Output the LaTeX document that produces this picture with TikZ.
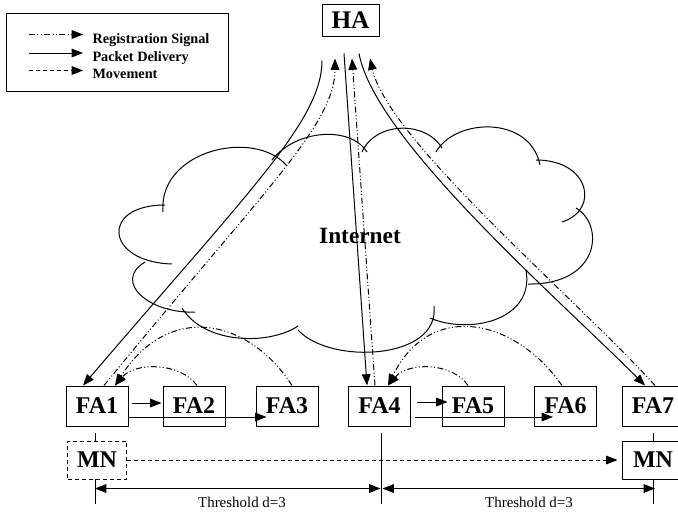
\documentclass[tikz,border=0pt]{standalone}
\usepackage{fontspec}
\setmainfont{Liberation Serif}
\usetikzlibrary{arrows.meta,calc}

\tikzset{every picture/.style={line width=0.75pt}}
\tikzset{
  agent/.style={draw, minimum width=46.5pt, minimum height=30pt, inner sep=0pt, font=\bfseries\fontsize{18}{20}\selectfont},
  regline/.style={dash pattern=on 4.5pt off 1.8pt on 0.75pt off 1.8pt on 0.75pt off 1.8pt},
  moveline/.style={dash pattern=on 3pt off 2.25pt},
  arr/.style={-{Triangle[length=8.5pt,width=6.5pt]}},
  dimarr/.style={{Triangle[length=8.5pt,width=6.5pt]}-{Triangle[length=8.5pt,width=6.5pt]}},
  legtext/.style={anchor=base west, inner sep=0pt, font=\bfseries\fontsize{10.7}{12}\selectfont},
  thtext/.style={inner sep=0pt, font=\fontsize{11.2}{13}\selectfont},
}

\begin{document}
\begin{tikzpicture}[x=0.75pt,y=0.75pt,yscale=-1,xscale=1]
\path[use as bounding box] (0,0) rectangle (678,512);
\clip (0,0) rectangle (678,512);

%Shape: Rectangle [legend]
\draw   (6,13) rectangle (228,91) ;
%Straight Lines [legend]
\draw [regline,arr]   (29,34.5) -- (83,34.5) ;
\draw [arr]   (29,53) -- (83,53) ;
\draw [moveline,arr]   (29,70.5) -- (83,70.5) ;
% Text Node
\draw (92,43.3) node [legtext] (lreg) {Registration Signal};
% Text Node
\draw (92,61.7) node [legtext] (lpkt) {Packet Delivery};
% Text Node
\draw (92,78.3) node [legtext] (lmov) {Movement};

%Shape: Cloud
\draw   (195,312) .. controls (150,314) and (112,282) .. (145,262)
        (172,264) .. controls (105,262) and (100,205) .. (165,205)
        (163,212) .. controls (158,150) and (255,128) .. (287,166)
        (272,160) .. controls (295,130) and (350,125) .. (367,152)
        (362,152) .. controls (375,122) and (425,120) .. (442,148)
        (436,152) .. controls (455,118) and (530,115) .. (540,165)
        (536,160) .. controls (590,160) and (600,210) .. (562,222)
        (576,208) .. controls (605,225) and (600,285) .. (528,284)
        (526,270) .. controls (535,320) and (470,335) .. (430,318)
        (434,306) .. controls (440,360) and (330,365) .. (298,330)
        (298,326) .. controls (270,345) and (205,345) .. (182,308) ;
% Text Node
\draw (360,236) node [font=\bfseries\fontsize{17.5}{20}\selectfont] (inet) {Internet};

% Text Node
\draw (350.5,20) node [agent, minimum width=42.75pt, minimum height=24pt, font=\bfseries\fontsize{19}{20}\selectfont] (ha) {HA};
% Text Node
\draw (97,406) node [agent] (fa1) {FA1};
% Text Node
\draw (194,406) node [agent] (fa2) {FA2};
% Text Node
\draw (287,406) node [agent] (fa3) {FA3};
% Text Node
\draw (379.5,406) node [agent] (fa4) {FA4};
% Text Node
\draw (473,406) node [agent] (fa5) {FA5};
% Text Node
\draw (565.5,406) node [agent] (fa6) {FA6};
% Text Node
\draw (653,406) node [agent] (fa7) {FA7};

%Straight Lines [threshold marks]
\draw    ($(fa1.south)+(-2,6)$) -- ($(fa1.south)+(-2,77)$) ;
\draw    ($(fa4.south)+(2,6)$) -- ($(fa4.south)+(2,77)$) ;
\draw    ($(fa7.south)+(0,6)$) -- ($(fa7.south)+(0,77)$) ;

% Text Node
\draw (97,460) node [agent, fill=white, moveline, minimum width=44.25pt, minimum height=28.5pt] (mn1) {MN};
% Text Node
\draw (653,460) node [agent, fill=white, minimum width=46.5pt, minimum height=28.5pt] (mn2) {MN};

% Connection
\draw [moveline,arr]   (mn1.east) -- ($(mn2.west)+(-4,0)$) ;
% Connection
\draw [dimarr]   ($(fa1.south)+(-2,62)$) -- ($(fa4.south)+(1,62)$) ;
\draw [dimarr]   ($(fa4.south)+(3,62)$) -- ($(fa7.south)+(2,62)$) ;
% Text Node
\draw (242,502) node [thtext] (th1) {Threshold d=3};
% Text Node
\draw (529,502) node [thtext] (th2) {Threshold d=3};

% Connection
\draw [arr]   ($(fa1.east)+(3,-3)$) -- ($(fa2.west)+(-1,-3)$) ;
\draw [arr]   ($(fa1.east)+(-1,11)$) -- ($(fa3.west)+(11,11)$) ;
\draw [arr]   ($(fa4.east)+(6,-4)$) -- ($(fa5.west)+(6,-4)$) ;
\draw [arr]   ($(fa4.east)+(4,11)$) -- ($(fa6.west)+(19,11)$) ;

%Curve Lines
\draw [regline,arr]   ($(fa2.north)+(3,0)$) .. controls (180,362) and (135,362) .. ($(fa1.north)+(18,0)$) ;
\draw [regline,arr]   ($(fa3.north)+(5,0)$) .. controls (250,320) and (170,300) .. ($(fa1.north)+(18,0)$) ;
\draw [regline,arr]   ($(fa5.north)+(-5,0)$) .. controls (452,362) and (408,362) .. ($(fa4.north)+(8.5,0)$) ;
\draw [regline,arr]   ($(fa6.north)+(-3.5,0)$) .. controls (515,318) and (430,300) .. ($(fa4.north)+(8.5,0)$) ;

%Curve Lines
\draw [arr]   ($(ha.south)+(-28.5,24)$) .. controls (322,120) and (250,190) .. ($(fa1.north)+(-14,0)$) ;
\draw [regline,arr]   ($(fa1.north)+(7,0)$) .. controls (262,192) and (335,125) .. ($(ha.south)+(-15.5,22)$) ;
\draw [arr]   ($(ha.south)+(-6.5,17)$) -- ($(fa4.north)+(-12.5,0)$) ;
\draw [regline,arr]   ($(fa4.north)+(-4.5,0)$) -- ($(ha.south)+(1.5,22)$) ;
\draw [arr]   ($(ha.south)+(8.5,17)$) .. controls (375,140) and (560,300) .. ($(fa7.north)+(-8,0)$) ;
\draw [regline,arr]   ($(fa7.north)+(2,0)$) .. controls (578,300) and (388,140) .. ($(ha.south)+(19.5,22)$) ;

\end{tikzpicture}
\end{document}
